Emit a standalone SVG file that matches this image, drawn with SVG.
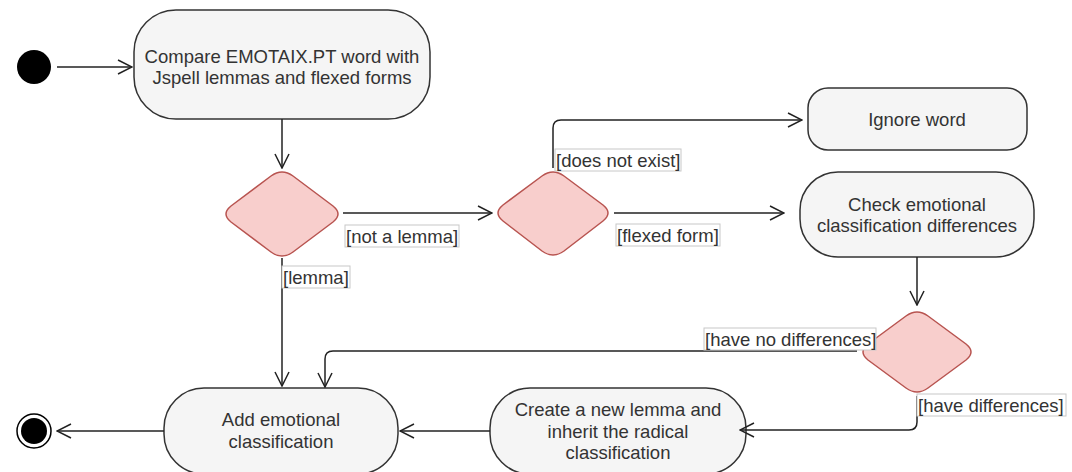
<svg xmlns="http://www.w3.org/2000/svg" width="1072" height="472" viewBox="0 0 1072 472">
<defs>
<style>
.act{fill:#f5f5f5;stroke:#333;stroke-width:1.5}
.dec{fill:#f8cecc;stroke:#b85450;stroke-width:1.5}
.t{font-family:"Liberation Sans",Arial,sans-serif;font-size:18.5px;fill:#333;text-anchor:middle}
.lb{font-family:"Liberation Sans",Arial,sans-serif;font-size:18.5px;fill:#333}
.lbb{fill:#fff;stroke:#c8c8c8;stroke-width:1}
.e{fill:none;stroke:#222;stroke-width:1.5;marker-end:url(#open)}
</style>
<marker id="open" viewBox="0 0 16 16" refX="15" refY="8" markerWidth="16" markerHeight="16" markerUnits="userSpaceOnUse" orient="auto">
<path d="M1,1 L15,8 L1,15" fill="none" stroke="#222" stroke-width="1.5"/>
</marker>
</defs>
<rect width="1072" height="472" fill="#fff"/>
<g id="start"><circle cx="34" cy="67" r="17" fill="#000"/></g>
<g id="compare"><rect class="act" x="134" y="10" width="296" height="109" rx="42"/><text class="t" x="282" y="63">Compare EMOTAIX.PT word with</text><text class="t" x="282" y="84">Jspell lemmas and flexed forms</text></g>
<g id="dec1"><path class="dec" d="M271,176 Q282,168 293,176 L333,206 Q343,214 333,222 L293,252 Q282,260 271,252 L231,222 Q221,214 231,206 Z"/></g>
<g id="dec2"><path class="dec" d="M542,176 Q553,168 564,176 L603,205 Q613,213 603,221 L564,251 Q553,259 542,251 L503,221 Q493,213 503,205 Z"/></g>
<g id="ignore"><rect class="act" x="808" y="88" width="219" height="62" rx="20"/><text class="t" x="917" y="126">Ignore word</text></g>
<g id="check"><rect class="act" x="800" y="172" width="234" height="85" rx="38"/><text class="t" x="917" y="211">Check emotional</text><text class="t" x="917" y="232">classification differences</text></g>
<g id="dec3"><path class="dec" d="M906,316 Q917,308 928,316 L966,344 Q976,352 966,360 L928,388 Q917,396 906,388 L868,360 Q858,352 868,344 Z"/></g>
<g id="create"><rect class="act" x="490" y="388" width="256" height="86" rx="40"/><text class="t" x="618" y="416">Create a new lemma and</text><text class="t" x="618" y="438">inherit the radical</text><text class="t" x="618" y="459">classification</text></g>
<g id="add"><rect class="act" x="164" y="388" width="234" height="86" rx="40"/><text class="t" x="281" y="426">Add emotional</text><text class="t" x="281" y="448">classification</text></g>
<g id="end"><circle cx="34" cy="431" r="17" fill="#fff" stroke="#000" stroke-width="1.5"/><circle cx="34" cy="431" r="13" fill="#000"/></g>
<g id="edges">
<path class="e" d="M57,67 L132,67"/>
<path class="e" d="M282,119 L282,168"/>
<path class="e" d="M343,213 L492,213"/>
<path class="e" d="M553,168 L553,128 Q553,120 561,120 L802,120"/>
<path class="e" d="M614,213 L784,213"/>
<path class="e" d="M917,257 L917,305"/>
<path class="e" d="M857,351 L333,351 Q325,351 325,359 L325,387"/>
<path class="e" d="M917,396 L917,422 Q917,430 909,430 L740,430"/>
<path class="e" d="M490,431 L400,431"/>
<path class="e" d="M282,258 L282,386"/>
<path class="e" d="M164,431 L57,431"/>
</g>
<g id="labels">
<rect class="lbb" x="345" y="225" width="114" height="22"/><text class="lb" x="346" y="243">[not a lemma]</text>
<rect class="lbb" x="555" y="149" width="126" height="22"/><text class="lb" x="556" y="167">[does not exist]</text>
<rect class="lbb" x="616" y="224" width="104" height="22"/><text class="lb" x="617" y="242">[flexed form]</text>
<rect class="lbb" x="282" y="266" width="68" height="22"/><text class="lb" x="283" y="284">[lemma]</text>
<rect class="lbb" x="704" y="328" width="172" height="22"/><text class="lb" x="705" y="346">[have no differences]</text>
<rect class="lbb" x="917" y="394" width="149" height="22"/><text class="lb" x="918" y="412">[have differences]</text>
</g>
</svg>
